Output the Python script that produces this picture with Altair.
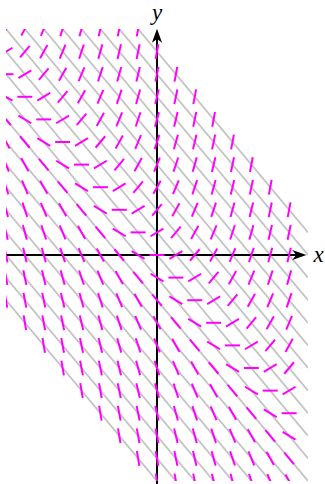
import math

import altair as alt
import pandas as pd

# Grid of sample points for the direction field of dy/dx = x + y
x_grid = [-4.0, -3.5, -3.0, -2.5, -2.0, -1.5, -1.0, -0.5,
          0.0, 0.5, 1.0, 1.5, 2.0, 2.5, 3.0, 3.5]
y_grid = [-5.0, -4.5, -4.0, -3.5, -3.0, -2.5, -2.0, -1.5, -1.0, -0.5,
          0.0, 0.5, 1.0, 1.5, 2.0, 2.5, 3.0, 3.5, 4.0, 4.5, 5.0]

# Gray isoclines x + y = c and the slope carried along each of them
line_levels = [-5.0, -4.5, -4.0, -3.5, -3.0, -2.5, -2.0, -1.5, -1.0, -0.5,
               0.0, 0.5, 1.0, 1.5, 2.0, 2.5, 3.0, 3.5, 4.0, 4.5]
line_slopes = [-5.0, -4.5, -4.0, -3.5, -3.0, -2.5, -2.0, -1.5, -1.0, -0.5,
               0.0, 0.5, 1.0, 1.5, 2.0, 2.5, 3.0, 3.5, 4.0, 4.5]

X_DOMAIN = [-4.0, 4.0]
Y_DOMAIN = [-5.0, 5.0]
W, H = 302, 452
KX = W / (X_DOMAIN[1] - X_DOMAIN[0])   # pixels per unit along x
KY = H / (Y_DOMAIN[1] - Y_DOMAIN[0])   # pixels per unit along y
HALF_LEN = 7.5                          # half length of a slope dash, px

slope_of = dict(zip(line_levels, line_slopes))

seg_rows = []
for xv in x_grid:
    for yv in y_grid:
        c = xv + yv
        if c not in slope_of:
            continue
        theta = math.atan(slope_of[c] * KY / KX)
        dx = HALF_LEN * math.cos(theta) / KX
        dy = HALF_LEN * math.sin(theta) / KY
        seg_rows.append({"x": xv - dx, "y": yv - dy, "x2": xv + dx, "y2": yv + dy})
segments = pd.DataFrame(seg_rows)

iso = pd.DataFrame({
    "x": [X_DOMAIN[0]] * len(line_levels),
    "x2": [X_DOMAIN[1]] * len(line_levels),
    "y": [c - X_DOMAIN[0] for c in line_levels],
    "y2": [c - X_DOMAIN[1] for c in line_levels],
})

xs = alt.Scale(domain=X_DOMAIN, nice=False, zero=False)
ys = alt.Scale(domain=Y_DOMAIN, nice=False, zero=False)

gray = alt.Chart(iso).mark_rule(color="#c4c4c4", strokeWidth=1.8, clip=True).encode(
    x=alt.X("x:Q", scale=xs, axis=None),
    y=alt.Y("y:Q", scale=ys, axis=None),
    x2="x2:Q", y2="y2:Q",
)

axes_df = pd.DataFrame({
    "x": [-4.0, 0.0], "x2": [3.8, 0.0],
    "y": [0.0, -5.1], "y2": [0.0, 4.85],
})
axes = alt.Chart(axes_df).mark_rule(color="black", strokeWidth=2).encode(
    x=alt.X("x:Q", scale=xs, axis=None),
    y=alt.Y("y:Q", scale=ys, axis=None),
    x2="x2:Q", y2="y2:Q",
)

arrow_path = "M1,0 L-1,-0.72 L-0.45,0 L-1,0.72 Z"
heads_df = pd.DataFrame({"x": [3.77, 0.0], "y": [0.0, 4.85], "ang": [0, 270]})
heads = alt.Chart(heads_df).mark_point(
    shape=arrow_path, filled=True, color="black", size=200, opacity=1
).encode(
    x=alt.X("x:Q", scale=xs, axis=None),
    y=alt.Y("y:Q", scale=ys, axis=None),
    angle=alt.Angle("ang:Q", scale=None),
)

field = alt.Chart(segments).mark_rule(
    color="#ff00ff", strokeWidth=2, strokeCap="butt", clip=True
).encode(
    x=alt.X("x:Q", scale=xs, axis=None),
    y=alt.Y("y:Q", scale=ys, axis=None),
    x2="x2:Q", y2="y2:Q",
)

labels_df = pd.DataFrame({"x": [4.28, 0.0], "y": [0.0, 5.36], "t": ["x", "y"]})
labels = alt.Chart(labels_df).mark_text(
    font="Liberation Serif", fontStyle="italic", fontSize=23,
    color="black", baseline="middle", align="center",
).encode(
    x=alt.X("x:Q", scale=xs, axis=None),
    y=alt.Y("y:Q", scale=ys, axis=None),
    text="t:N",
)

chart = alt.layer(gray, axes, heads, field, labels).properties(
    width=W, height=H,
    autosize=alt.AutoSizeParams(type="none"),
    padding={"left": 6, "top": 29, "right": 17, "bottom": 3},
).configure_view(stroke=None)

chart.save("out.html", embed_options={"renderer": "svg", "actions": False})
